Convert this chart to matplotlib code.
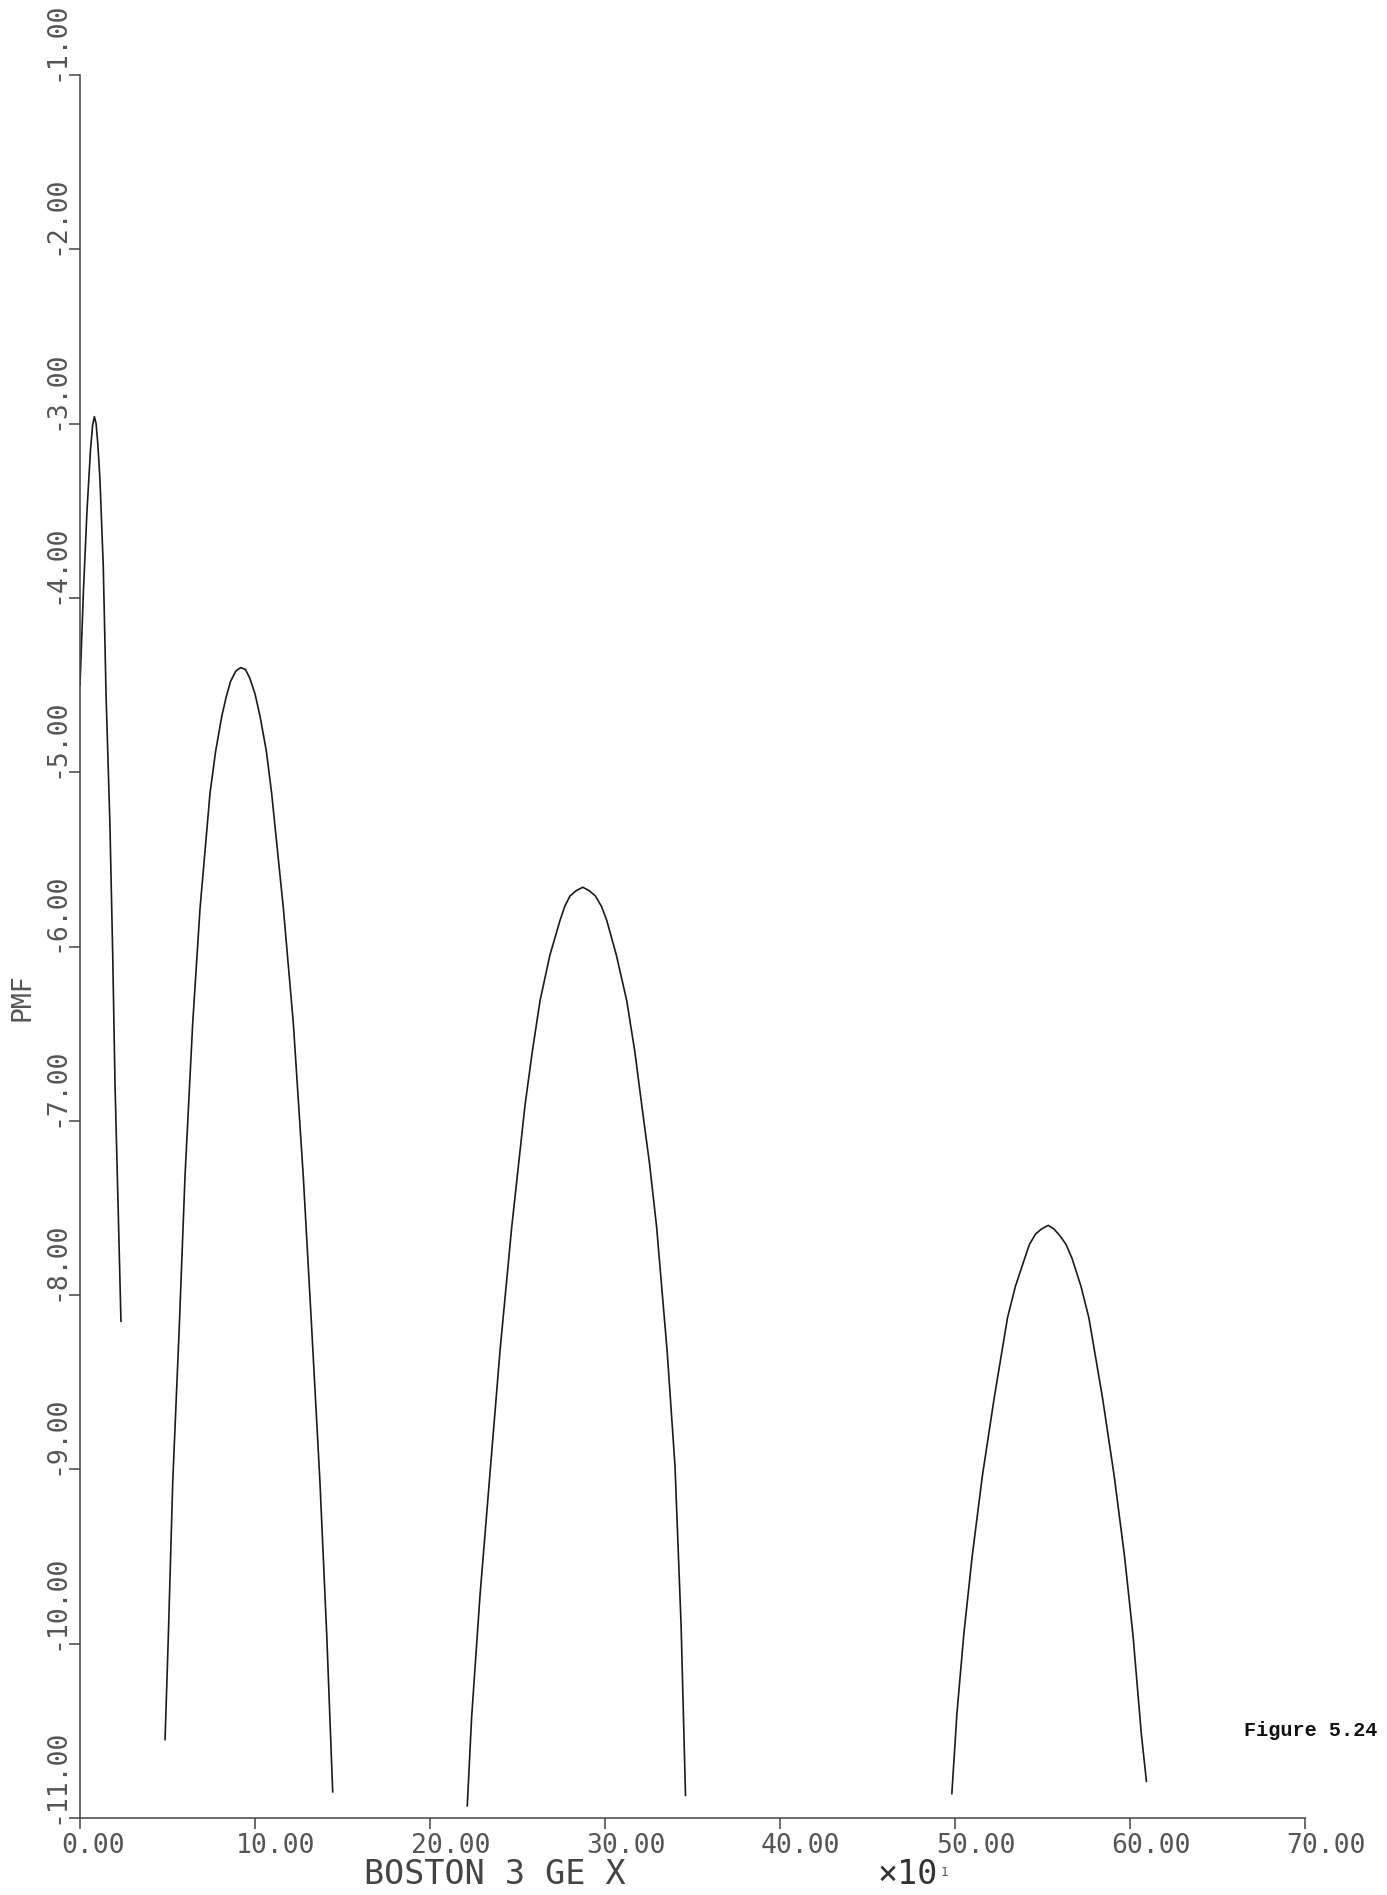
# Log PMF plot (scanned plotter figure, Boston 3 GE X), redrawn with matplotlib
import matplotlib
matplotlib.use('Agg')
import matplotlib.pyplot as plt
import matplotlib.transforms as mtransforms

# values (x in axis-label units, i.e. before the x10 factor)
peak1_x = [0.0, 0.2, 0.4, 0.6, 0.72, 0.82, 0.92, 1.02, 1.14, 1.33, 1.49, 1.71, 1.87, 2.0, 2.19, 2.34]
peak1_y = [-4.5, -3.95, -3.5, -3.15, -3.01, -2.96, -3.0, -3.12, -3.32, -3.82, -4.56, -5.3, -6.05, -6.79, -7.54, -8.15]

peak2_x = [4.86, 5.05, 5.30, 5.67, 6.00, 6.44, 6.86, 7.43, 7.75, 8.10, 8.35, 8.60, 8.90, 9.18, 9.45,
           9.70, 10.0, 10.29, 10.65, 10.95, 11.62, 12.19, 12.76, 13.24, 13.71, 14.10, 14.44]
peak2_y = [-10.55, -9.95, -9.07, -8.19, -7.32, -6.44, -5.78, -5.12, -4.88, -4.68, -4.57, -4.48, -4.42, -4.40, -4.41,
           -4.46, -4.55, -4.68, -4.88, -5.12, -5.78, -6.44, -7.32, -8.19, -9.07, -9.95, -10.85]

peak3_x = [22.13, 22.38, 22.86, 23.43, 24.00, 24.67, 25.43, 25.85, 26.29, 26.85, 27.43, 27.70, 28.0,
           28.35, 28.73, 29.10, 29.45, 29.80, 30.10, 30.65, 31.24, 31.70, 32.10, 32.55, 32.95, 33.55,
           34.0, 34.35, 34.6]
peak3_y = [-10.93, -10.42, -9.72, -9.02, -8.32, -7.61, -6.91, -6.60, -6.31, -6.05, -5.85, -5.77, -5.71,
           -5.68, -5.66, -5.68, -5.71, -5.77, -5.85, -6.05, -6.31, -6.60, -6.91, -7.25, -7.61, -8.32,
           -8.98, -9.90, -10.87]

peak4_x = [49.82, 50.11, 50.50, 50.98, 51.56, 52.24, 53.00, 53.45, 53.98, 54.25, 54.6, 54.95, 55.33,
           55.65, 56.0, 56.35, 56.69, 57.20, 57.65, 58.43, 59.10, 59.69, 60.17, 60.65, 60.94]
peak4_y = [-10.86, -10.40, -9.95, -9.50, -9.04, -8.59, -8.13, -7.95, -7.79, -7.71, -7.65, -7.62, -7.60,
           -7.62, -7.66, -7.71, -7.79, -7.95, -8.13, -8.59, -9.04, -9.50, -9.95, -10.52, -10.79]

x_ticks = [0, 10, 20, 30, 40, 50, 60, 70]
y_ticks = [-1, -2, -3, -4, -5, -6, -7, -8, -9, -10, -11]

W, H = 1387, 1895
mono = 'DejaVu Sans Mono'
ink = '#1a1a1a'
label_grey = '#555555'

fig = plt.figure(figsize=(W / 100, H / 100), dpi=100)
ax = fig.add_axes([80 / W, 1 - 1818 / H, 1225 / W, (1818 - 75) / H])

for xs, ys in [(peak1_x, peak1_y), (peak2_x, peak2_y), (peak3_x, peak3_y), (peak4_x, peak4_y)]:
    ax.plot(xs, ys, color=ink, lw=1.2, solid_joinstyle='round')

ax.set_xlim(0, 70)
ax.set_ylim(-11, -1)
ax.spines['top'].set_visible(False)
ax.spines['right'].set_visible(False)
for side in ['left', 'bottom']:
    ax.spines[side].set_color('#444444')
    ax.spines[side].set_linewidth(1.1)

ax.set_xticks(x_ticks)
ax.set_xticklabels([f'{v:.2f}' for v in x_ticks])
ax.set_yticks(y_ticks)
ax.set_yticklabels([f'{v:.2f}' for v in y_ticks])
ax.tick_params(axis='both', direction='out', length=8, width=1.1, color='#444444',
               labelsize=19, labelcolor=label_grey)
ax.tick_params(axis='x', pad=3)
ax.tick_params(axis='y', pad=0)

# plotter-style label placement: x labels start just left of the tick,
# y labels run upward from the tick
dx = mtransforms.ScaledTranslation(-19 / 100, 0, fig.dpi_scale_trans)
for lab in ax.get_xticklabels():
    lab.set_fontfamily(mono)
    lab.set_horizontalalignment('left')
    lab.set_transform(lab.get_transform() + dx)
dy = mtransforms.ScaledTranslation(0, -6 / 100, fig.dpi_scale_trans)
for lab in ax.get_yticklabels():
    lab.set_fontfamily(mono)
    lab.set_rotation(90)
    lab.set_verticalalignment('bottom')
    lab.set_transform(lab.get_transform() + dy)

fig.text(22 / W, 1 - 997 / H, 'PMF', rotation=90, ha='center', va='center',
         fontsize=19, family=mono, color=label_grey)
fig.text(364 / W, 1 - 1874 / H, 'BOSTON 3 GE X', ha='left', va='center',
         fontsize=24, family=mono, color='#444444')
fig.text(878 / W, 1 - 1874 / H, '\u00d710', ha='left', va='center',
         fontsize=24, family=mono, color='#333333')
fig.text(941 / W, 1 - 1873 / H, '1', ha='left', va='center',
         fontsize=9, family=mono, color='#555555')
fig.text(1377 / W, 1 - 1730 / H, 'Figure 5.24', ha='right', va='center',
         fontsize=14.5, family='Liberation Mono', fontweight='bold', color='#111111')

fig.savefig('out.png', dpi=100)
